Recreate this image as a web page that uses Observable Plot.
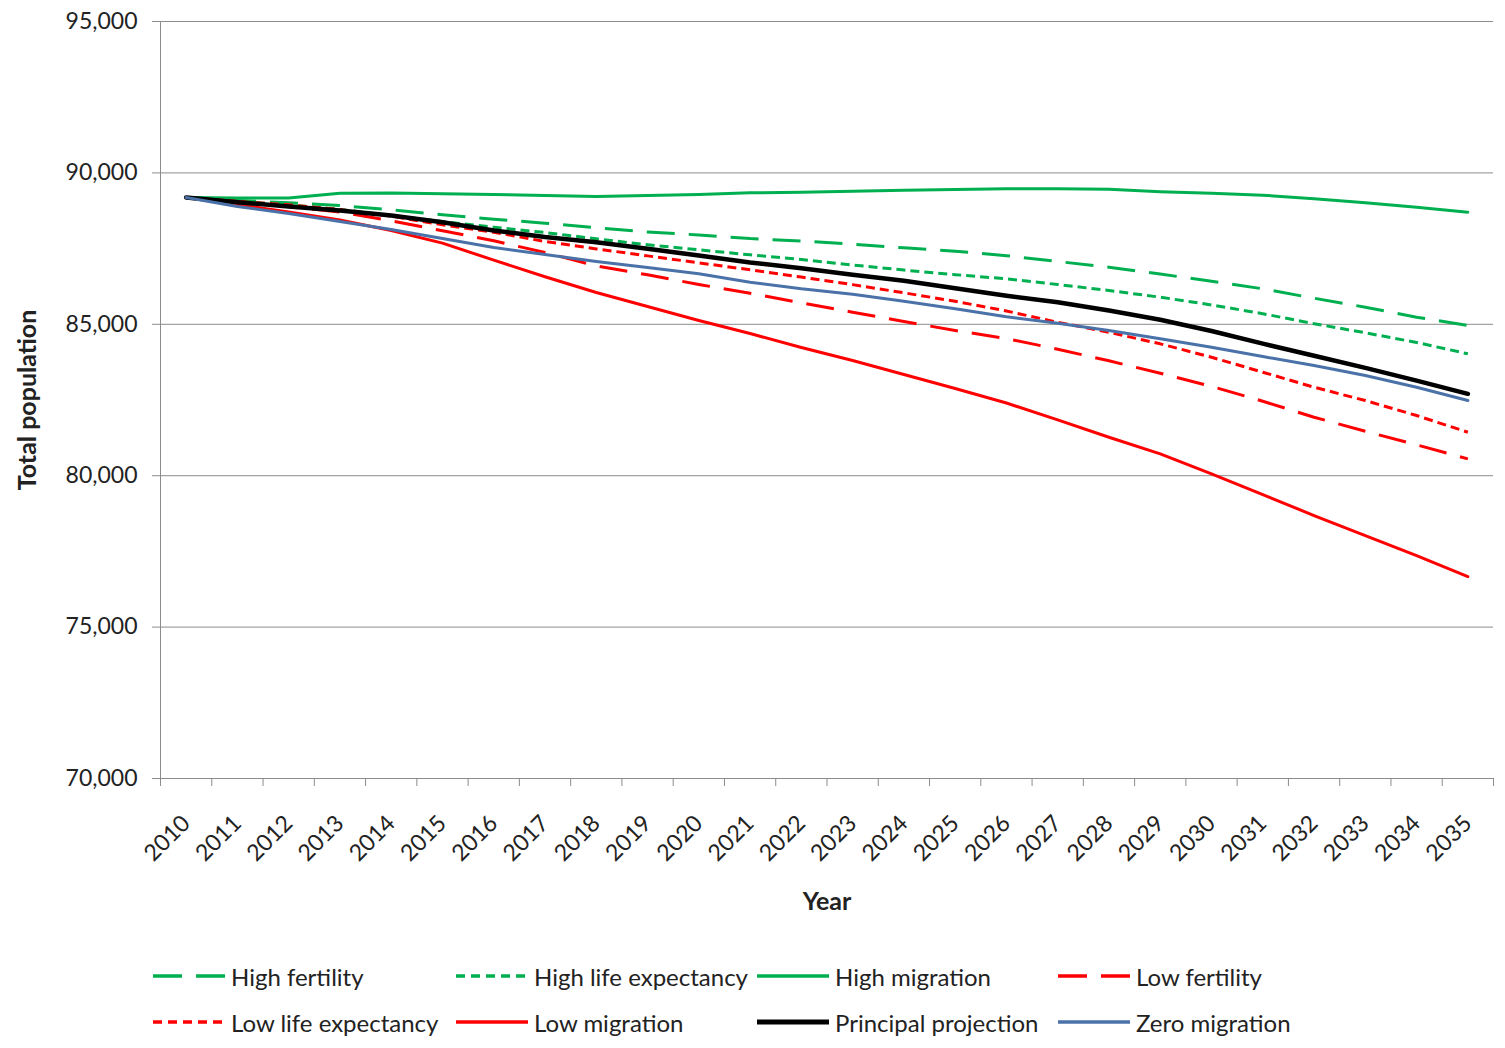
<!DOCTYPE html>
<html>
<head>
<meta charset="utf-8">
<script src="https://cdn.jsdelivr.net/npm/d3@7"></script>
<script src="https://cdn.jsdelivr.net/npm/@observablehq/plot@0.6"></script>
<style>
  html, body { margin: 0; padding: 0; background: #fff; }
  body { width: 1505px; height: 1048px; overflow: hidden; font-family: Lato, "Open Sans", sans-serif; color: #222; }
  #legend {
    display: grid;
    grid-template-columns: 303px 301px 301px 300px;
    grid-auto-rows: 46px;
    padding: 23px 0 0 153px;
    font-size: 24px;
  }
  .item { display: flex; align-items: center; white-space: nowrap; }
  .item svg { margin-right: 6px; flex: none; }
</style>
</head>
<body>
<div id="chart"></div>
<div id="legend"></div>
<script>
// ---- data ----
const years = [2010, 2011, 2012, 2013, 2014, 2015, 2016, 2017, 2018, 2019, 2020, 2021, 2022,
               2023, 2024, 2025, 2026, 2027, 2028, 2029, 2030, 2031, 2032, 2033, 2034, 2035];

const highFertility = [89190, 89088, 89012, 88923, 88781, 88616, 88471, 88340, 88186, 88050, 87950, 87830, 87750,
                       87645, 87526, 87414, 87265, 87074, 86886, 86660, 86420, 86172, 85861, 85564, 85234, 84960];
const highLifeExpectancy = [89190, 89055, 88946, 88791, 88593, 88395, 88206, 88031, 87823, 87625, 87460, 87295, 87140,
                            86960, 86790, 86640, 86502, 86314, 86116, 85895, 85640, 85350, 85020, 84720, 84400, 84025];
const highMigration = [89190, 89170, 89170, 89330, 89340, 89310, 89287, 89254, 89220, 89254, 89287, 89343, 89363,
                       89396, 89429, 89452, 89475, 89475, 89462, 89380, 89330, 89264, 89145, 89012, 88867, 88702];
const lowFertility = [89190, 89055, 88880, 88710, 88420, 88090, 87760, 87370, 86930, 86634, 86314, 86027, 85709,
                      85399, 85092, 84795, 84530, 84177, 83794, 83384, 82950, 82459, 81931, 81468, 81019, 80557];
const lowLifeExpectancy = [89190, 89055, 88946, 88791, 88570, 88286, 88041, 87734, 87490, 87260, 87030, 86800, 86560,
                           86310, 86040, 85760, 85440, 85069, 84738, 84355, 83913, 83418, 82922, 82482, 81987, 81436];
const lowMigration = [89190, 88956, 88709, 88444, 88097, 87680, 87120, 86570, 86050, 85587, 85125, 84695, 84233,
                      83804, 83341, 82879, 82400, 81845, 81270, 80722, 80061, 79377, 78684, 78023, 77363, 76669];
const principalProjection = [89190, 89032, 88890, 88758, 88593, 88372, 88097, 87880, 87711, 87493, 87272, 87041, 86852,
                             86634, 86436, 86192, 85945, 85729, 85455, 85150, 84780, 84360, 83960, 83560, 83140, 82704];
const zeroMigration = [89190, 88890, 88659, 88395, 88130, 87833, 87536, 87305, 87073, 86875, 86667, 86390, 86172,
                       85993, 85762, 85511, 85250, 85036, 84795, 84520, 84243, 83935, 83638, 83308, 82922, 82482];

const yTicks = [70000, 75000, 80000, 85000, 90000, 95000];
const seriesNames = ["High fertility", "High life expectancy", "High migration", "Low fertility",
                     "Low life expectancy", "Low migration", "Principal projection", "Zero migration"];
const xLabel = "Year";
const yLabel = "Total population";

// ---- styles ----
const GREEN = "#00b050", RED = "#ff0000", BLACK = "#000000", BLUE = "#4a72a8";
const LONG = "28,14", SHORT = "9,5";
const series = [
  {name: seriesNames[0], values: highFertility, color: GREEN, dash: LONG, width: 3},
  {name: seriesNames[1], values: highLifeExpectancy, color: GREEN, dash: SHORT, width: 3},
  {name: seriesNames[2], values: highMigration, color: GREEN, dash: null, width: 3},
  {name: seriesNames[3], values: lowFertility, color: RED, dash: LONG, width: 3},
  {name: seriesNames[4], values: lowLifeExpectancy, color: RED, dash: SHORT, width: 3},
  {name: seriesNames[5], values: lowMigration, color: RED, dash: null, width: 3},
  {name: seriesNames[6], values: principalProjection, color: BLACK, dash: null, width: 4.5},
  {name: seriesNames[7], values: zeroMigration, color: BLUE, dash: null, width: 3}
];

const boundaries = years.map(y => y - 0.5).concat([years[years.length - 1] + 0.5]);
const GRID = "#8c8c8c";
const FONT = "Lato, 'Open Sans', sans-serif";

const lineMarks = series.map(s => Plot.line(
  s.values.map((v, i) => ({year: years[i], value: v})),
  {x: "year", y: "value", stroke: s.color, strokeWidth: s.width,
   strokeDasharray: s.dash || undefined, strokeLinecap: s.dash ? "butt" : "round",
   strokeLinejoin: "round"}
));

const chart = Plot.plot({
  width: 1505,
  height: 930,
  marginLeft: 160,
  marginRight: 12,
  marginTop: 21,
  marginBottom: 152,
  style: {fontFamily: FONT, fontSize: "23px", color: "#222", background: "#fff"},
  x: {type: "linear", domain: [boundaries[0], boundaries[boundaries.length - 1]], axis: null},
  y: {domain: [yTicks[0], yTicks[yTicks.length - 1]], axis: null},
  marks: [
    Plot.ruleY(yTicks, {stroke: GRID, strokeWidth: 1}),
    Plot.ruleX([boundaries[0]], {stroke: GRID, strokeWidth: 1}),
    Plot.ruleX(boundaries, {y1: yTicks[0], y2: yTicks[0], insetBottom: -8, stroke: GRID, strokeWidth: 1}),
    Plot.axisY(yTicks, {tickSize: 8, tickPadding: 15, stroke: GRID, fill: "#222",
                        tickFormat: d3.format(","), label: null, fontSize: 23}),
    ...lineMarks,
    Plot.text(years, {x: d => d, text: d => String(d), frameAnchor: "bottom", rotate: -45, textAnchor: "end",
                      lineAnchor: "middle", dy: 41, fontSize: 23, fill: "#222"}),
    Plot.text([xLabel], {frameAnchor: "bottom", dy: 131, fontWeight: "bold", fontSize: 25, fill: "#222"}),
    Plot.text([yLabel], {frameAnchor: "left", textAnchor: "middle", dx: -133, rotate: -90,
                         fontWeight: "bold", fontSize: 25, fill: "#222"})
  ]
});
document.getElementById("chart").appendChild(chart);

// ---- legend ----
const legend = document.getElementById("legend");
for (const s of series) {
  const item = document.createElement("div");
  item.className = "item";
  const ns = "http://www.w3.org/2000/svg";
  const svg = document.createElementNS(ns, "svg");
  svg.setAttribute("width", 72);
  svg.setAttribute("height", 12);
  const ln = document.createElementNS(ns, "line");
  ln.setAttribute("x1", 0); ln.setAttribute("x2", 72);
  ln.setAttribute("y1", 6); ln.setAttribute("y2", 6);
  ln.setAttribute("stroke", s.color);
  ln.setAttribute("stroke-width", s.width === 3 ? 3.5 : 5);
  if (s.dash) ln.setAttribute("stroke-dasharray", s.dash === LONG ? "29,14" : "9,6");
  else ln.setAttribute("stroke-linecap", "round");
  svg.appendChild(ln);
  item.appendChild(svg);
  const t = document.createElement("span");
  t.textContent = s.name;
  item.appendChild(t);
  legend.appendChild(item);
}
</script>
</body>
</html>
